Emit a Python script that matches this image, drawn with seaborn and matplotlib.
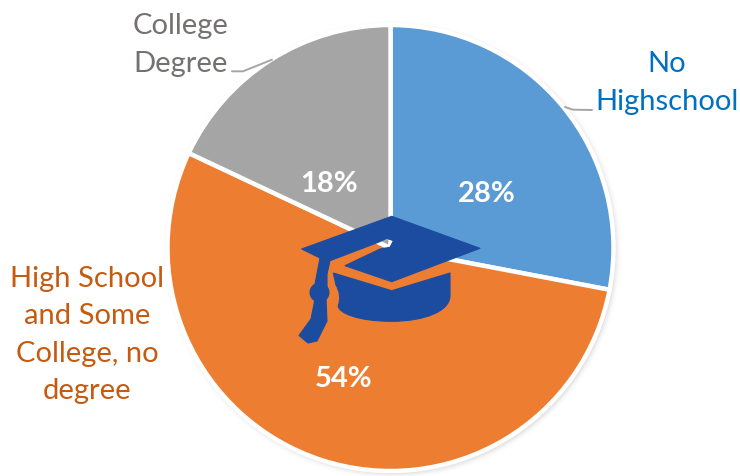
import matplotlib
matplotlib.use("Agg")
import matplotlib.pyplot as plt
from matplotlib.patches import Circle, Polygon, PathPatch
from matplotlib.path import Path
import seaborn as sns

sns.set_theme(style="white")
plt.rcParams["font.family"] = ["Lato", "Open Sans", "DejaVu Sans"]

# Educational attainment shares, in percent
categories = ["No\nHighschool", "High School\nand Some\nCollege, no\ndegree", "College\nDegree"]
shares = [28, 54, 18]
slice_colors = ["#5B9BD5", "#ED7D31", "#A5A5A5"]
text_colors = ["#0070C0", "#C55A11", "#767171"]
cap_color = "#1C4CA0"

W, H = 740, 477
CX, CY, R = 390.5, 249, 223


def up(points):
    """Convert top-left based canvas points to the upward y axis."""
    return [(x, H - y) for x, y in points]


fig = plt.figure(figsize=(W / 100, H / 100), dpi=100, facecolor="white")
ax = fig.add_axes([0, 0, 1, 1])
ax.set_xlim(0, W)
ax.set_ylim(0, H)
ax.axis("off")

# Soft halo under the pie
for grow, alpha in [(6, 0.012), (4, 0.02), (2.5, 0.03), (1, 0.04)]:
    ax.add_patch(Circle((CX + 2, H - CY - 2), R + grow, fc="black", ec="none",
                        alpha=alpha, zorder=1))

ax.pie(shares, colors=slice_colors, startangle=90, counterclock=False,
       center=(CX, H - CY), radius=R, frame=True,
       wedgeprops=dict(edgecolor="white", linewidth=3.2, zorder=2))
ax.set_xlim(0, W)
ax.set_ylim(0, H)
ax.set_aspect("equal")
ax.axis("off")

# Category names beside the pie
name_positions = [(667, 83), (87, 335), (181, 45)]
for name, color, (x, y) in zip(categories, text_colors, name_positions):
    ax.text(x, H - y, name, color=color, fontsize=21, ha="center", va="center",
            linespacing=1.55, zorder=5)

# Percentages on the slices
pct_positions = [(487, 194), (344, 379), (329, 184)]
for value, (x, y) in zip(shares, pct_positions):
    ax.text(x, H - y, f"{value}%", color="white", fontsize=21, fontweight="bold",
            ha="center", va="center", zorder=5)

# Leader lines
for line in ([(565, 108), (573, 110.7), (592, 111)],
             [(232, 72.3), (243, 72.3), (272, 60.7)]):
    xs, ys = zip(*up(line))
    ax.plot(xs, ys, color="#A6A6A6", lw=1.4, zorder=4)

# Graduation cap: board with tassel
board = [(391.7, 217.3), (480, 249.3), (391.7, 282.7), (345, 266.7), (380, 250),
         (390, 248.3), (393.5, 241.7), (386.7, 239.3), (378.3, 243.3), (330, 261.7),
         (327, 275), (327, 287), (326, 300), (327, 322),
         (317, 342), (308, 344), (299, 336.5), (311, 320), (315, 300), (315, 285),
         (320, 259), (301.7, 250)]
ax.add_patch(Polygon(up(board), closed=True, fc=cap_color, ec=cap_color, lw=0.8,
                     joinstyle="round", zorder=3.5))
ax.add_patch(Circle(up([(319.5, 293.5)])[0], 10, fc=cap_color, ec="none", zorder=3.5))

# Graduation cap: crown with rounded underside
crown = [(333.3, 274), (391.7, 291.7), (450, 274), (450, 296.7),
         (450, 312), (425, 322.3), (391.7, 322.3),
         (358, 322.3), (338.3, 314), (338.3, 306.7),
         (342, 296), (336, 286), (333.3, 274)]
codes = [Path.MOVETO, Path.LINETO, Path.LINETO, Path.LINETO,
         Path.CURVE4, Path.CURVE4, Path.CURVE4,
         Path.CURVE4, Path.CURVE4, Path.CURVE4,
         Path.CURVE3, Path.CURVE3, Path.LINETO]
ax.add_patch(PathPatch(Path(up(crown), codes), fc=cap_color, ec=cap_color, lw=0.8,
                       joinstyle="round", zorder=3.5))

fig.savefig("out.png", dpi=100, facecolor="white")
